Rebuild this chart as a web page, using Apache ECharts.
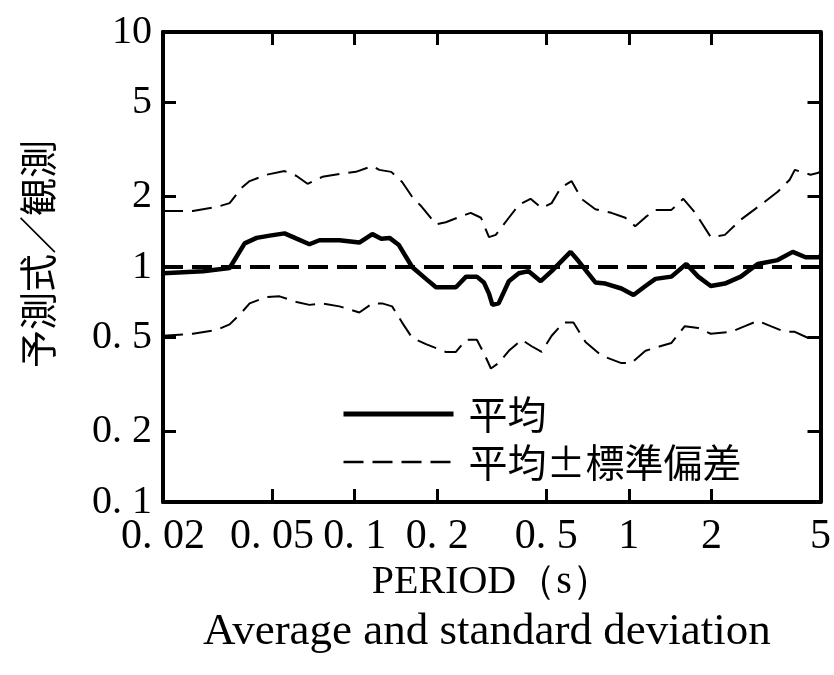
<!DOCTYPE html>
<html>
<head>
<meta charset="utf-8">
<script src="https://cdn.jsdelivr.net/npm/echarts@6/dist/echarts.min.js"></script>
<style>
html, body { margin: 0; background: #fff; }
#chart { width: 834px; height: 675px; }
</style>
</head>
<body>
<div id="chart"></div>
<script>
// 平均
const meanPeriod = [0.02, 0.028, 0.035, 0.0397, 0.0439, 0.049, 0.0555, 0.0614, 0.0684, 0.0744, 0.088, 0.104, 0.116, 0.125, 0.134, 0.145, 0.162, 0.182, 0.198, 0.234, 0.255, 0.279, 0.296, 0.309, 0.318, 0.335, 0.365, 0.397, 0.431, 0.477, 0.523, 0.613, 0.655, 0.755, 0.821, 0.939, 1.04, 1.15, 1.25, 1.43, 1.62, 1.79, 1.99, 2.24, 2.56, 2.95, 3.49, 3.96, 4.41, 4.88, 5];
const meanRatio  = [0.94, 0.96, 0.99, 1.26, 1.33, 1.36, 1.39, 1.32, 1.25, 1.30, 1.30, 1.27, 1.38, 1.32, 1.33, 1.24, 1.0, 0.89, 0.82, 0.82, 0.91, 0.91, 0.86, 0.77, 0.69, 0.70, 0.87, 0.94, 0.96, 0.87, 0.96, 1.16, 1.06, 0.86, 0.85, 0.81, 0.76, 0.83, 0.89, 0.91, 1.03, 0.91, 0.83, 0.85, 0.91, 1.03, 1.07, 1.16, 1.10, 1.10, 1.11];

// 平均+標準偏差
const upperPeriod = [0.02, 0.0257, 0.0314, 0.035, 0.0387, 0.0414, 0.0477, 0.0555, 0.0614, 0.0673, 0.0763, 0.088, 0.101, 0.116, 0.123, 0.136, 0.149, 0.162, 0.176, 0.198, 0.215, 0.240, 0.265, 0.289, 0.309, 0.327, 0.365, 0.397, 0.438, 0.481, 0.523, 0.564, 0.618, 0.672, 0.755, 0.863, 0.971, 1.055, 1.15, 1.25, 1.43, 1.58, 1.74, 1.99, 2.24, 2.56, 3.03, 3.49, 3.86, 4.03, 4.60, 4.88, 5];
const upperRatio  = [1.73, 1.73, 1.80, 1.87, 2.17, 2.32, 2.47, 2.56, 2.44, 2.26, 2.42, 2.49, 2.54, 2.69, 2.59, 2.54, 2.30, 1.99, 1.80, 1.52, 1.55, 1.63, 1.70, 1.62, 1.34, 1.37, 1.62, 1.84, 1.95, 1.78, 1.87, 2.17, 2.32, 1.95, 1.76, 1.70, 1.62, 1.49, 1.63, 1.75, 1.75, 1.95, 1.71, 1.34, 1.37, 1.59, 1.84, 2.09, 2.35, 2.59, 2.47, 2.51, 2.55];

// 平均-標準偏差
const lowerPeriod = [0.02, 0.0257, 0.0314, 0.035, 0.0387, 0.0414, 0.0477, 0.0532, 0.0614, 0.0684, 0.0763, 0.088, 0.104, 0.116, 0.126, 0.137, 0.149, 0.162, 0.182, 0.215, 0.234, 0.255, 0.279, 0.296, 0.314, 0.335, 0.365, 0.407, 0.442, 0.481, 0.523, 0.578, 0.628, 0.695, 0.794, 0.939, 1.02, 1.15, 1.30, 1.43, 1.60, 1.79, 1.99, 2.36, 2.65, 2.95, 3.29, 3.70, 4.03, 4.49, 4.88, 5];
const lowerRatio  = [0.51, 0.52, 0.54, 0.57, 0.64, 0.70, 0.745, 0.75, 0.71, 0.69, 0.70, 0.68, 0.64, 0.70, 0.70, 0.68, 0.58, 0.50, 0.47, 0.435, 0.435, 0.49, 0.49, 0.43, 0.37, 0.39, 0.44, 0.49, 0.46, 0.435, 0.51, 0.58, 0.58, 0.48, 0.42, 0.39, 0.39, 0.44, 0.46, 0.475, 0.56, 0.55, 0.52, 0.53, 0.56, 0.59, 0.56, 0.53, 0.53, 0.50, 0.50, 0.50];

// 予測式/観測 = 1
const refPeriod = [0.02, 5];
const refRatio = [1, 1];

const xTicks = [0.02, 0.05, 0.1, 0.2, 0.5, 1, 2, 5];
const xTickText = ['0. 02', '0. 05', '0. 1', '0. 2', '0. 5', '1', '2', '5'];
const yTicks = [0.1, 0.2, 0.5, 1, 2, 5, 10];
const yTickText = ['0. 1', '0. 2', '0. 5', '1', '2', '5', '10'];

const zip = (a, b) => a.map((v, i) => [v, b[i]]);
const lookup = (vals, texts) => (v) => {
    const i = vals.findIndex(t => Math.abs(t - v) / t < 1e-6);
    return i < 0 ? '' : texts[i];
};

const chart = echarts.init(document.getElementById('chart'));

const serif = 'Liberation Serif, DejaVu Serif, serif';
const cjk = 'Noto Sans CJK JP, sans-serif';

const axisLine = { show: true, lineStyle: { color: '#000', width: 4 } };
const tickInner = (vals) => ({
    show: true, inside: true, length: 13,
    customValues: vals.slice(1, -1),
    lineStyle: { color: '#000', width: 3 }
});

const option = {
    backgroundColor: '#fff',
    animation: false,
    title: {
        text: 'Average and standard deviation',
        left: 198,
        top: 605,
        textStyle: { fontFamily: serif, fontSize: 45, fontWeight: 'normal', color: '#000' }
    },
    legend: {
        data: [
            { name: '平均', lineStyle: { width: 5 } },
            { name: '平均±標準偏差', lineStyle: { width: 2.5 } }
        ],
        orient: 'vertical',
        left: 336,
        top: 389,
        itemWidth: 110,
        itemHeight: 14,
        itemGap: 8,
        itemStyle: { opacity: 0 },
        textStyle: { fontFamily: cjk, fontSize: 39, color: '#000', lineHeight: 40, padding: [0, 0, 0, 10] }
    },
    grid: { left: 163, right: 11, top: 32, bottom: 173, containLabel: false },
    xAxis: [
        {
            type: 'log', logBase: 10, min: 0.02, max: 5, position: 'bottom',
            name: 'PERIOD（s）', nameLocation: 'middle', nameGap: 50,
            nameTextStyle: { fontFamily: serif, fontSize: 40, color: '#000' },
            axisLine: axisLine,
            axisTick: tickInner(xTicks),
            minorTick: { show: false },
            splitLine: { show: false },
            axisLabel: {
                customValues: xTicks, margin: 14, color: '#000',
                fontFamily: serif, fontSize: 42,
                formatter: lookup(xTicks, xTickText)
            }
        },
        {
            type: 'log', logBase: 10, min: 0.02, max: 5, position: 'top',
            axisLine: axisLine,
            axisTick: tickInner(xTicks),
            splitLine: { show: false },
            axisLabel: { show: false }
        }
    ],
    yAxis: [
        {
            type: 'log', logBase: 10, min: 0.1, max: 10, position: 'left',
            name: '予測式／観測', nameLocation: 'middle', nameGap: 106, nameRotate: 90,
            nameTextStyle: { fontFamily: cjk, fontSize: 38, color: '#000', padding: [0, 0, 0, 26] },
            axisLine: axisLine,
            axisTick: tickInner(yTicks),
            splitLine: { show: false },
            axisLabel: {
                customValues: yTicks, margin: 11, color: '#000',
                fontFamily: serif, fontSize: 40,
                formatter: lookup(yTicks, yTickText)
            }
        },
        {
            type: 'log', logBase: 10, min: 0.1, max: 10, position: 'right',
            axisLine: axisLine,
            axisTick: tickInner(yTicks),
            splitLine: { show: false },
            axisLabel: { show: false }
        }
    ],
    series: [
        {
            name: '基準', type: 'line', data: zip(refPeriod, refRatio),
            symbol: 'none', silent: true,
            lineStyle: { color: '#000', width: 4, type: [20, 9] }
        },
        {
            name: '平均', type: 'line', data: zip(meanPeriod, meanRatio),
            symbol: 'none', smooth: false,
            itemStyle: { color: '#000' },
            lineStyle: { color: '#000', width: 4.5 }
        },
        {
            name: '平均±標準偏差', type: 'line', data: zip(upperPeriod, upperRatio),
            symbol: 'none',
            itemStyle: { color: '#000' },
            lineStyle: { color: '#000', width: 2, type: [20, 9] }
        },
        {
            name: '平均±標準偏差', type: 'line', data: zip(lowerPeriod, lowerRatio),
            symbol: 'none',
            itemStyle: { color: '#000' },
            lineStyle: { color: '#000', width: 2, type: [20, 9] }
        }
    ]
};

chart.setOption(option);
</script>
</body>
</html>
